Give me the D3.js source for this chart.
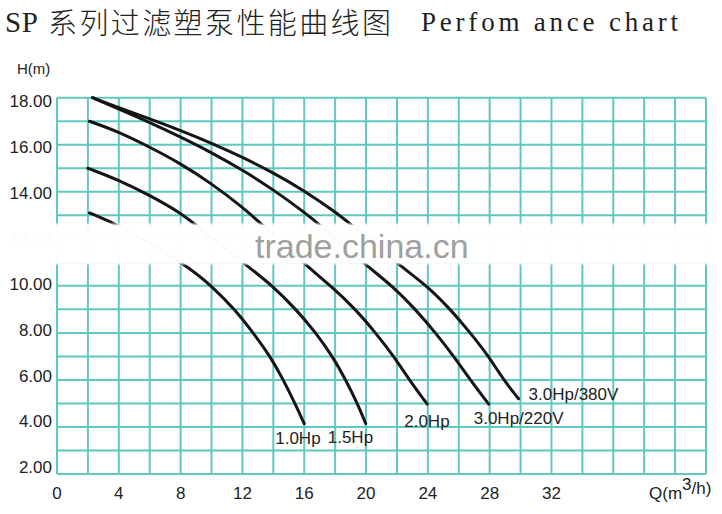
<!DOCTYPE html>
<html>
<head>
<meta charset="utf-8">
<script src="https://cdn.jsdelivr.net/npm/d3@7"></script>
<style>
  body { margin: 0; background: #fff; }
  svg { display: block; }
</style>
</head>
<body>
<svg width="722" height="514"></svg>
<script>
// pump curves, [Q m3/h, H m]
const seriesNames = ['1.0Hp', '1.5Hp', '2.0Hp', '3.0Hp/220V', '3.0Hp/380V'];
const curve10 = [[2.1,13.1],[4.05,12.58],[8.4,10.88],[10,10],[11.5,9],[12.7,8],[13.8,7],[14.65,6],[15.4,5],[16,4.14]];
const curve15 = [[2.0,15.0],[4,14.5],[6,13.85],[8,13.1],[9,12.58],[12.24,10.88],[13.96,10],[15.47,9],[16.76,8],[17.83,7],[18.69,6],[19.44,5],[19.98,4.14]];
const curve20 = [[2.1,17.0],[4,16.55],[6,15.9],[8,15.2],[10,14.35],[12,13.35],[13.3,12.6],[16.15,10.85],[17.72,10],[19.33,9],[20.62,8],[21.8,7],[22.8,6],[23.96,4.97]];
const curve30a = [[2.3,18],[4,17.52],[6,16.95],[8,16.33],[10,15.67],[12,14.93],[14,14.09],[16,13.13],[17.05,12.58],[19.98,10.88],[21.7,10],[23.2,9],[24.5,8],[25.68,7],[26.75,6],[27.94,4.97]];
const curve30b = [[2.3,18],[4,17.57],[6,17.11],[8,16.61],[10,16.07],[12,15.47],[14,14.81],[16,14.05],[18,13.15],[19.1,12.58],[22.13,10.88],[23.96,10],[25.46,9],[26.75,8],[27.94,7],[28.9,6],[29.87,5.2]];
const curves = [curve10, curve15, curve20, curve30a, curve30b];

const xTicks = [0, 4, 8, 12, 16, 20, 24, 28, 32];
const yTicks = [2, 4, 6, 8, 10, 12, 14, 16, 18];

// where each label sits relative to its curve's end
const labelNudge = [[-29, 20], [-38, 19], [-23, 23], [-15, 20], [10, 1]];

const svg = d3.select('svg');
const x = d3.scaleLinear([0, 42], [57, 706]);
const y = d3.scaleLinear([2, 18], [474, 97.7]);
// the printed tick numbers sit on a slightly tighter scale than the grid
const yLabel = d3.scaleLinear([2, 18], [467, 101]);
const gridColor = '#5fc8c1';
const font = 'Liberation Sans, Arial, sans-serif';

// title
svg.append('text').text('SP')
    .attr('x', 5).attr('y', 32)
    .attr('textLength', 33).attr('lengthAdjust', 'spacing')
    .style('font-family', 'Liberation Serif, Times New Roman, serif')
    .style('font-size', '29px').style('fill', '#222');
svg.append('text').text('系列过滤塑泵性能曲线图')
    .attr('x', 48).attr('y', 34)
    .style('letter-spacing', '2.4px')
    .style('font-family', 'Noto Sans CJK SC, sans-serif')
    .style('font-weight', 300)
    .style('font-size', '29px').style('fill', '#222');
svg.append('text').text('Perfom ance chart')
    .attr('x', 421).attr('y', 31)
    .attr('textLength', 257).attr('lengthAdjust', 'spacing')
    .style('font-family', 'Liberation Serif, Times New Roman, serif')
    .style('font-size', '27px').style('fill', '#222');

// grid
const grid = svg.append('g').attr('stroke', gridColor).attr('stroke-width', 2);
grid.selectAll('line.v')
    .data(d3.range(0, 43, 2))
    .join('line').attr('class', 'v')
    .attr('x1', d => x(d)).attr('x2', d => x(d))
    .attr('y1', y(18)).attr('y2', y(2));
grid.selectAll('line.h')
    .data(d3.range(2, 19, 1))
    .join('line').attr('class', 'h')
    .attr('x1', x(0)).attr('x2', x(42))
    .attr('y1', d => y(d)).attr('y2', d => y(d));

// axis labels
svg.append('g').selectAll('text')
    .data(yTicks)
    .join('text')
    .attr('x', 52).attr('y', d => yLabel(d) + 6)
    .attr('text-anchor', 'end')
    .style('font-family', font).style('font-size', '17px').style('fill', '#222')
    .text(d => d.toFixed(2));

svg.append('g').selectAll('text')
    .data(xTicks)
    .join('text')
    .attr('x', d => x(d)).attr('y', 499)
    .attr('text-anchor', 'middle')
    .style('font-family', font).style('font-size', '17px').style('fill', '#222')
    .text(d => d);

svg.append('text').text('H(m)')
    .attr('x', 17).attr('y', 74)
    .style('font-family', font).style('font-size', '15px').style('fill', '#222');

const qLabel = svg.append('text')
    .attr('x', 649).attr('y', 499)
    .style('font-family', font).style('font-size', '17px').style('fill', '#222');
qLabel.append('tspan').text('Q(m');
qLabel.append('tspan').attr('dy', -9).text('3');
qLabel.append('tspan').attr('dy', 4).text('/h)');

// curves
const line = d3.line()
    .x(d => x(d[0])).y(d => y(d[1]))
    .curve(d3.curveBasis);

svg.append('g').selectAll('path')
    .data(curves)
    .join('path')
    .attr('d', line)
    .attr('fill', 'none')
    .attr('stroke', '#151515')
    .attr('stroke-width', 3)
    .attr('stroke-linecap', 'round');

svg.append('g').selectAll('text')
    .data(curves)
    .join('text')
    .attr('x', (d, i) => x(d[d.length - 1][0]) + labelNudge[i][0])
    .attr('y', (d, i) => y(d[d.length - 1][1]) + labelNudge[i][1])
    .style('font-family', font).style('font-size', '17px').style('fill', '#222')
    .text((d, i) => seriesNames[i]);

// washed-out watermark band across the middle
const grad = svg.append('defs').append('linearGradient')
    .attr('id', 'band').attr('x1', 0).attr('x2', 0).attr('y1', 0).attr('y2', 1);
grad.append('stop').attr('offset', '0').attr('stop-color', '#fff').attr('stop-opacity', 0);
grad.append('stop').attr('offset', '0.08').attr('stop-color', '#fff').attr('stop-opacity', 0.98);
grad.append('stop').attr('offset', '0.92').attr('stop-color', '#fff').attr('stop-opacity', 0.98);
grad.append('stop').attr('offset', '1').attr('stop-color', '#fff').attr('stop-opacity', 0);

svg.append('rect')
    .attr('x', 0).attr('y', 222).attr('width', 722).attr('height', 44)
    .attr('fill', 'url(#band)');

svg.append('text').text('trade.china.cn')
    .attr('x', 255).attr('y', 258)
    .style('font-family', font).style('font-size', '34px')
    .style('fill', '#8f8f8f').style('opacity', 0.85);
</script>
</body>
</html>
